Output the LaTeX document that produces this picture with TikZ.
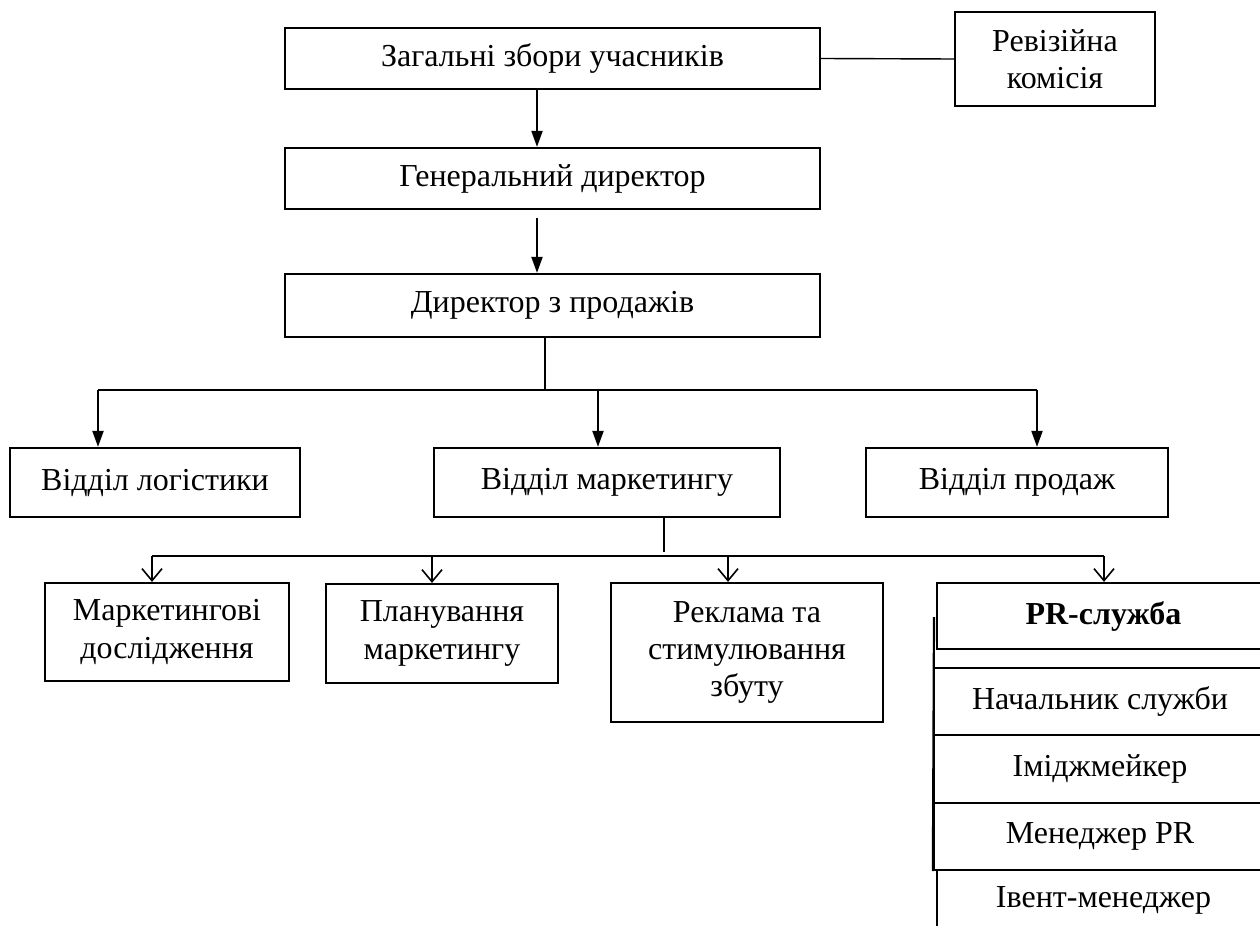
\documentclass[tikz,border=0pt]{standalone}
\usepackage{fontspec}
\setmainfont{Liberation Serif}
\usetikzlibrary{arrows.meta,positioning}
\tikzstyle{box} = [rectangle, draw=black, line width=1.1pt, align=center, inner sep=2pt, font=\fontsize{16}{18.7}\selectfont]
\tikzstyle{arrow} = [line width=1pt, -{Triangle[length=8pt,width=5.5pt]}]
\tikzstyle{openarrow} = [line width=0.8pt, -{Straight Barb[length=6pt,width=10pt]}]
\tikzstyle{link} = [line width=0.7pt]

\begin{document}
\begin{tikzpicture}[x=0.5pt,y=-0.5pt]
	\clip (0,0) rectangle (1260,926);
	% top of the structure
	\node[box, minimum width=267.5pt, minimum height=30.5pt] (meeting) at (552.5,58.5) {Загальні збори учасників};
	\node[box, minimum width=100pt, minimum height=47pt] (audit) at (1055,59) {Ревізійна\\комісія};
	\node[box, minimum width=267.5pt, minimum height=30.5pt] (ceo) at (552.5,178.5) {Генеральний директор};
	\node[box, minimum width=267.5pt, minimum height=31.5pt] (sales dir) at (552.5,305.5) {Директор з продажів};

	% departments
	\node[box, minimum width=145pt, minimum height=34.5pt] (logistics) at (155,482.5) {Відділ логістики};
	\node[box, minimum width=173pt, minimum height=34.5pt] (marketing) at (607,482.5) {Відділ маркетингу};
	\node[box, minimum width=151pt, minimum height=34.5pt] (sales) at (1017,482.5) {Відділ продаж};

	% marketing units
	\node[box, minimum width=122pt, minimum height=49pt] (research) at (167,632) {Маркетингові\\дослідження};
	\node[box, minimum width=116pt, minimum height=49.5pt] (planning) at (442,633.5) {Планування\\маркетингу};
	\node[box, minimum width=136pt, minimum height=69.5pt] (promo) at (747,652.5) {Реклама та\\стимулювання\\збуту};
	\node[box, minimum width=166.5pt, minimum height=33pt] (pr) at (1103.5,616) {\bfseries PR-служба};

	% PR staff
	\node[box, minimum width=166pt, minimum height=33.5pt] (head) at (1100,701.5) {Начальник служби};
	\node[box, minimum width=166pt, minimum height=34pt] (image) at (1100,769) {Іміджмейкер};
	\node[box, minimum width=166pt, minimum height=33.5pt] (manager) at (1100,836.5) {Менеджер PR};
	\node[box, minimum width=166.5pt, minimum height=30pt] (event) at (1103.5,900) {Івент-менеджер};
	\coordinate (pr line) at (934,617);
	\draw[line width=1.1pt] (pr line) -- (manager.south west);

	% links
	\draw[link] (meeting.east) -- (audit.west);
	\draw[arrow] ([xshift=-7.75pt]meeting.south) -- ([xshift=-7.75pt]ceo.north);
	\draw[arrow] ([xshift=-7.75pt,yshift=-4pt]ceo.south) -- ([xshift=-7.75pt]sales dir.north);

	\coordinate (split) at (545,390);
	\coordinate (d1) at (98,390);
	\coordinate (d2) at (598,390);
	\coordinate (d3) at (1037,390);
	\draw[link] (split |- sales dir.south) -- (split);
	\draw[line width=1pt] (d1) -- (d3);
	\draw[arrow] (d1) -- (d1 |- logistics.north);
	\draw[arrow] (d2) -- (d2 |- marketing.north);
	\draw[arrow] (d3) -- (d3 |- sales.north);

	\coordinate (split2) at (664,552);
	\coordinate (u1) at (152,556);
	\coordinate (u2) at (432,556);
	\coordinate (u3) at (728,556);
	\coordinate (u4) at (1104,556);
	\draw[link] (split2 |- marketing.south) -- (split2);
	\draw[link] (u1) -- (u4);
	\draw[openarrow] (u1) -- (u1 |- research.north);
	\draw[openarrow] (u2) -- (u2 |- planning.north);
	\draw[openarrow] (u3) -- (u3 |- promo.north);
	\draw[openarrow] (u4) -- (u4 |- pr.north);
\end{tikzpicture}
\end{document}
